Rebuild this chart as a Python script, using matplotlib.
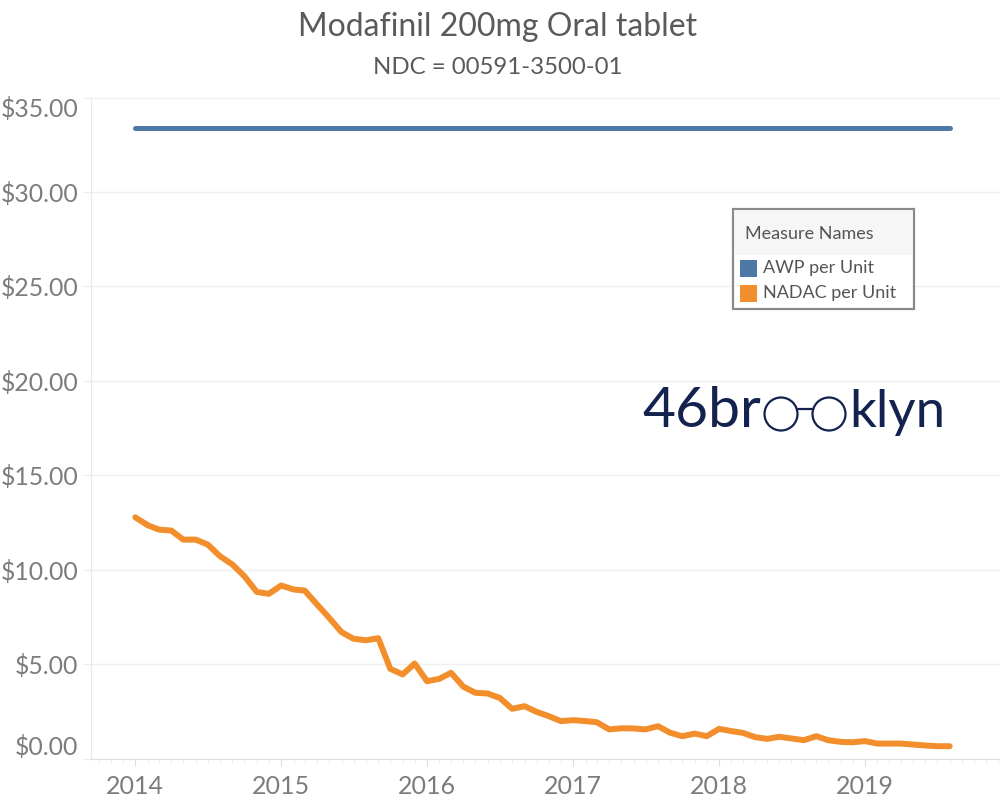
import numpy as np
import pandas as pd
import matplotlib
matplotlib.use("Agg")
import matplotlib.pyplot as plt
import matplotlib.dates as mdates
from matplotlib.patches import Rectangle, Ellipse

# Monthly prices, Jan 2014 .. Aug 2019
months = pd.date_range("2014-01-01", periods=68, freq="MS")
nadac_per_unit = [12.77, 12.35, 12.12, 12.07, 11.59, 11.59, 11.33, 10.71, 10.27, 9.65,
                  8.82, 8.72, 9.16, 8.95, 8.89, 8.15, 7.45, 6.69, 6.34, 6.26,
                  6.37, 4.75, 4.45, 5.03, 4.09, 4.22, 4.54, 3.80, 3.48, 3.44,
                  3.21, 2.63, 2.77, 2.47, 2.24, 1.98, 2.03, 1.98, 1.92, 1.54,
                  1.60, 1.59, 1.54, 1.71, 1.36, 1.18, 1.32, 1.18, 1.57, 1.45,
                  1.36, 1.13, 1.04, 1.15, 1.06, 0.97, 1.18, 0.97, 0.88, 0.86,
                  0.92, 0.79, 0.79, 0.79, 0.74, 0.69, 0.65, 0.65]
awp_per_unit = [33.38] * len(months)
y_ticks = [0, 5, 10, 15, 20, 25, 30, 35]
series_names = ["AWP per Unit", "NADAC per Unit"]

BLUE = "#4e79a7"
ORANGE = "#f28e2b"
NAVY = "#14224f"
TXT = "#7c7c7c"

W, H = 1000, 806

def fx(px):
    # pixel x -> figure fraction
    return px / W

def fy(py):
    # pixel y (from top) -> figure fraction
    return 1 - py / H

plt.rcParams["font.family"] = ["Lato", "DejaVu Sans"]

fig = plt.figure(figsize=(10, 8.06), dpi=100)
ax = fig.add_axes([fx(91), fy(758.5), 1 - fx(91), (758.5 - 97.5) / H])

ax.plot(months, awp_per_unit, color=BLUE, lw=3.6, solid_capstyle="round", zorder=3)
ax.plot(months, nadac_per_unit, color=ORANGE, lw=4.3, solid_capstyle="round",
        solid_joinstyle="round", zorder=3)

ax.set_ylim(0, 35)
ax.set_xlim(pd.Timestamp("2013-09-12"), pd.Timestamp("2019-12-05"))

# y axis
ax.set_yticks(y_ticks)
ax.set_yticklabels(["${:.2f}".format(v) for v in y_ticks])
ax.yaxis.grid(True, color="#efefef", lw=1)
ax.tick_params(axis="y", length=6, color="#ececec", labelsize=17.8, labelcolor=TXT, pad=3)
ylabels = ax.get_yticklabels()
ylabels[0].set_va("bottom")
ylabels[-1].set_va("top")

# x axis
ax.xaxis.set_major_locator(mdates.YearLocator())
ax.xaxis.set_major_formatter(mdates.DateFormatter("%Y"))
ax.xaxis.set_minor_locator(mdates.MonthLocator())
ax.tick_params(axis="x", which="major", length=5, color="#dddddd", labelsize=18,
               labelcolor=TXT, pad=7)
ax.tick_params(axis="x", which="minor", length=3, color="#e6e6e6")

for s in ["top", "right"]:
    ax.spines[s].set_visible(False)
ax.spines["left"].set_color("#e8e8e8")
ax.spines["bottom"].set_color("#e0e0e0")
ax.set_axisbelow(True)

# titles
fig.text(0.498, fy(27), "Modafinil 200mg Oral tablet", ha="center", va="center",
         fontsize=23, color="#5a5a5a")
fig.text(0.498, fy(67), "NDC = 00591-3500-01", ha="center", va="center",
         fontsize=17.3, color="#5a5a5a")

# legend box (Tableau style)
fig.patches.append(Rectangle((fx(733), fy(309)), fx(914) - fx(733), (309 - 209) / H,
                             transform=fig.transFigure, facecolor="white",
                             edgecolor="#8a8a8a", lw=1.6, zorder=5))
fig.patches.append(Rectangle((fx(735), fy(255)), fx(912) - fx(735), (255 - 211) / H,
                             transform=fig.transFigure, facecolor="#f6f6f6",
                             edgecolor="none", zorder=6))
fig.text(fx(745), fy(234), "Measure Names", ha="left", va="center", fontsize=13,
         color="#555555", zorder=7)
for i, (name, col) in enumerate(zip(series_names, [BLUE, ORANGE])):
    yc = 268 + 25 * i
    fig.patches.append(Rectangle((fx(740), fy(yc + 8.5)), 17 / W, 17 / H,
                                 transform=fig.transFigure, facecolor=col,
                                 edgecolor="none", zorder=7))
    fig.text(fx(763), fy(yc), name, ha="left", va="center", fontsize=13,
             color="#555555", zorder=7)

# 46brooklyn logo
fig.text(fx(642), fy(427), "46br", fontsize=41, color=NAVY, va="baseline", ha="left")
fig.text(fx(849), fy(427), "klyn", fontsize=38, color=NAVY, va="baseline", ha="left")
for cx in [781, 829]:
    fig.patches.append(Ellipse((fx(cx), fy(414)), 33 / W, 33 / H,
                               transform=fig.transFigure, fill=False, ec=NAVY, lw=1.6))
fig.lines.append(plt.Line2D([fx(797), fx(813)], [fy(409), fy(409)],
                            transform=fig.transFigure, color=NAVY, lw=1.6))

fig.savefig("out.png", dpi=100, facecolor="white")
